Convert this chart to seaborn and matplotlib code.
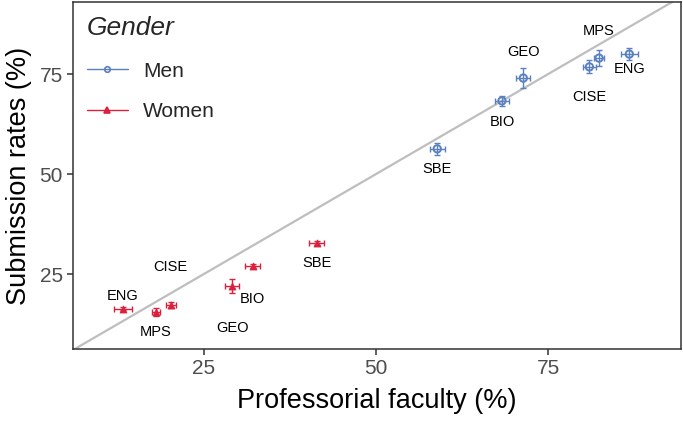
import matplotlib
matplotlib.use("Agg")
import matplotlib.pyplot as plt
from matplotlib.lines import Line2D
import seaborn as sns
import pandas as pd

# ---- data ----
fields = ["SBE", "BIO", "GEO", "CISE", "MPS", "ENG"]
men_faculty = [58.9, 68.3, 71.4, 81.0, 82.4, 86.8]
men_submission = [56.3, 68.3, 74.0, 76.8, 79.0, 80.0]
men_xerr = [1.1, 1.0, 1.0, 0.9, 0.7, 1.2]
men_yerr = [1.5, 1.3, 2.6, 1.6, 2.0, 1.6]
men_label_x = [58.9, 68.3, 71.4, 81.0, 82.4, 86.8]
men_label_y = [51.3, 63.0, 80.5, 69.3, 85.8, 76.3]

women_faculty = [41.4, 32.1, 29.1, 20.2, 18.0, 13.2]
women_submission = [32.8, 27.0, 22.0, 17.3, 15.5, 16.3]
women_xerr = [1.1, 1.1, 1.0, 0.75, 0.6, 1.3]
women_yerr = [0.5, 0.4, 1.7, 0.7, 1.0, 0.4]
women_label_x = [41.4, 32.1, 29.1, 20.1, 18.0, 13.2]
women_label_y = [27.8, 18.8, 11.5, 26.8, 10.5, 19.5]

genders = ["Men", "Women"]
colors = {"Men": "#5a80c0", "Women": "#dc1f3c"}
markers = {"Men": "o", "Women": "^"}

df = pd.DataFrame({
    "field": fields * 2,
    "faculty": men_faculty + women_faculty,
    "submission": men_submission + women_submission,
    "xerr": men_xerr + women_xerr,
    "yerr": men_yerr + women_yerr,
    "lx": men_label_x + women_label_x,
    "ly": men_label_y + women_label_y,
    "Gender": ["Men"] * 6 + ["Women"] * 6,
})

sns.set_theme(style="white")
plt.rcParams["font.family"] = ["Liberation Sans", "DejaVu Sans"]

fig = plt.figure(figsize=(6.83, 4.22), dpi=100)
ax = fig.add_axes([0.107, 0.173, 0.890, 0.822])

ax.axline((0, 0), slope=1, color="#bebebe", lw=1.6, zorder=1)

for g in genders:
    sub = df[df["Gender"] == g]
    ax.errorbar(sub["faculty"], sub["submission"], xerr=sub["xerr"], yerr=sub["yerr"],
                fmt="none", ecolor=colors[g], elinewidth=1.0, capsize=2.5, capthick=1.0, zorder=2)

sns.scatterplot(data=df[df["Gender"] == "Men"], x="faculty", y="submission", ax=ax,
                marker="o", s=28, facecolor="none", edgecolor=colors["Men"], linewidth=1.4,
                legend=False, zorder=3)
sns.scatterplot(data=df[df["Gender"] == "Women"], x="faculty", y="submission", ax=ax,
                marker="^", s=26, color=colors["Women"], edgecolor=colors["Women"], linewidth=0.5,
                legend=False, zorder=3)

for _, r in df.iterrows():
    ax.text(r["lx"], r["ly"], r["field"], ha="center", va="center", fontsize=10.5, color="black")

ax.set_xlim(6, 94.3)
ax.set_ylim(6.25, 93)
ax.set_xticks([25, 50, 75])
ax.set_yticks([25, 50, 75])
ax.tick_params(axis="both", which="both", direction="out", length=4.5, width=1.1,
               color="#333333", labelsize=15, labelcolor="#4d4d4d", bottom=True, left=True, pad=3)
for s in ax.spines.values():
    s.set_color("#333333")
    s.set_linewidth(1.1)
ax.grid(False)
ax.set_xlabel("Professorial faculty (%)", fontsize=19.5, color="black", labelpad=7)
ax.set_ylabel("Submission rates (%)", fontsize=19.5, color="black", labelpad=5)

handles = [Line2D([0], [0], color=colors[g], marker=markers[g], lw=1.0, markersize=4,
                  markerfacecolor="none" if g == "Men" else colors[g],
                  markeredgecolor=colors[g], markeredgewidth=1.2) for g in genders]
leg = ax.legend(handles, genders, title="Gender", loc="upper left", frameon=False,
                fontsize=15, handlelength=2.0, labelspacing=1.05, handletextpad=0.7,
                borderaxespad=0.25, bbox_to_anchor=(0.0, 1.0))
leg.get_title().set_fontsize(19)
leg.get_title().set_fontstyle("italic")
leg._legend_box.align = "left"

fig.savefig("out.png", dpi=100)
